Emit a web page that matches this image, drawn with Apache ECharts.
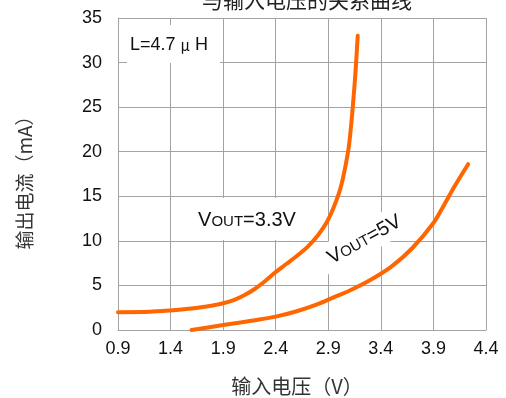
<!DOCTYPE html>
<html>
<head>
<meta charset="utf-8">
<script src="https://cdn.jsdelivr.net/npm/echarts@6/dist/echarts.min.js"></script>
<style>
  html, body { margin: 0; padding: 0; background: #fff; }
  #chart { width: 506px; height: 398px; }
</style>
</head>
<body>
<div id="chart"></div>
<script>
// Input voltage (V) vs. output current (mA), L = 4.7 µH
const xTicks = [0.9, 1.4, 1.9, 2.4, 2.9, 3.4, 3.9, 4.4];
const yTicks = [0, 5, 10, 15, 20, 25, 30, 35];

// VOUT = 3.3 V curve: [input voltage, output current]
const vout33 = [
  [0.9, 2.0], [1.2, 2.05], [1.4, 2.2], [1.6, 2.4], [1.8, 2.75], [1.9, 3.0],
  [2.0, 3.35], [2.1, 3.9], [2.2, 4.6], [2.3, 5.5], [2.4, 6.5], [2.5, 7.4],
  [2.6, 8.3], [2.7, 9.3], [2.8, 10.6], [2.9, 12.4], [3.0, 15.3], [3.05, 17.6],
  [3.1, 21.0], [3.15, 27.5], [3.18, 33.0]
];

// VOUT = 5 V curve
const vout5 = [
  [1.6, 0.0], [1.9, 0.55], [2.2, 1.1], [2.4, 1.5], [2.6, 2.1], [2.8, 2.9],
  [2.94, 3.6], [3.1, 4.4], [3.3, 5.6], [3.5, 7.1], [3.7, 9.2], [3.9, 12.0],
  [4.0, 14.0], [4.1, 16.1], [4.23, 18.6]
];

const titleText = '与输入电压的关系曲线';
const xName = '输入电压（V）';
const yName = '输出电流（mA）';

const chart = echarts.init(document.getElementById('chart'));
const font = '"Liberation Sans", Arial, "Noto Sans CJK SC", sans-serif';
const cjk = '"Noto Sans CJK SC", "Liberation Sans", sans-serif';
const gridColor = '#a3a3a3';
const orange = '#ff6600';

chart.setOption({
  animation: false,
  backgroundColor: '#fff',
  grid: { left: 118, right: 20, top: 18, bottom: 68, containLabel: false },
  xAxis: {
    type: 'value',
    min: xTicks[0],
    max: xTicks[xTicks.length - 1],
    interval: 0.5,
    axisLine: { show: true, lineStyle: { color: gridColor, width: 1 } },
    axisTick: { show: false },
    splitLine: { show: true, lineStyle: { color: gridColor, width: 1 } },
    axisLabel: {
      margin: 10,
      fontSize: 18,
      fontFamily: font,
      color: '#111',
      formatter: v => v.toFixed(1)
    }
  },
  yAxis: {
    type: 'value',
    min: yTicks[0],
    max: yTicks[yTicks.length - 1],
    interval: 5,
    axisLine: { show: true, lineStyle: { color: gridColor, width: 1 } },
    axisTick: { show: false },
    splitLine: { show: true, lineStyle: { color: gridColor, width: 1 } },
    axisLabel: {
      margin: 16,
      fontSize: 18,
      fontFamily: font,
      color: '#111'
    }
  },
  series: [
    {
      name: 'VOUT=3.3V',
      type: 'line',
      data: vout33,
      smooth: 0.3,
      showSymbol: false,
      lineStyle: { color: orange, width: 4, cap: 'round' },
      z: 3
    },
    {
      name: 'VOUT=5V',
      type: 'line',
      data: vout5,
      smooth: 0.3,
      showSymbol: false,
      lineStyle: { color: orange, width: 4, cap: 'round' },
      z: 3
    }
  ]
});

// Annotation boxes and axis titles
const voutRich = {
  big: { fontSize: 20, fontFamily: font, fill: '#111', verticalAlign: 'bottom', lineHeight: 22 },
  small: { fontSize: 15, fontFamily: font, fill: '#111', verticalAlign: 'bottom', lineHeight: 22, padding: [0, 0, 1, 0] }
};

chart.setOption({
  graphic: [
    {
      type: 'text', x: 307, y: 0, z: 5,
      style: { text: titleText, font: '21px ' + cjk, fill: '#222', align: 'center', verticalAlign: 'middle' }
    },
    {
      type: 'text', x: 297, y: 386, z: 5,
      style: { text: xName, font: '20px ' + cjk, fill: '#333', align: 'center', verticalAlign: 'middle' }
    },
    {
      type: 'text', x: 25, y: 178, z: 5, rotation: Math.PI / 2,
      style: { text: yName, font: '19px ' + cjk, fill: '#333', align: 'center', verticalAlign: 'middle' }
    },
    // L value box
    {
      type: 'rect', z: 1,
      shape: { x: 127, y: 25, width: 93, height: 38 },
      style: { fill: '#fff' }
    },
    {
      type: 'text', x: 130, y: 45, z: 5,
      style: {
        text: '{a|L=4.7 }{m|μ}{a| H}',
        verticalAlign: 'middle',
        rich: {
          a: { fontSize: 18, fontFamily: font, fill: '#111' },
          m: { fontSize: 15, fontFamily: cjk, fill: '#111' }
        }
      }
    },
    // VOUT = 3.3 V box
    {
      type: 'rect', z: 1,
      shape: { x: 172, y: 198, width: 150, height: 42 },
      style: { fill: '#fff' }
    },
    {
      type: 'text', x: 247, y: 219, z: 5,
      style: {
        text: '{big|V}{small|OUT}{big|=3.3V}',
        align: 'center', verticalAlign: 'middle',
        rich: voutRich
      }
    },
    // VOUT = 5 V rotated box
    {
      type: 'group', x: 364, y: 239, rotation: 29 * Math.PI / 180, z: 1,
      children: [
        {
          type: 'rect', z: 1,
          shape: { x: -48, y: -15, width: 96, height: 30 },
          style: { fill: '#fff' }
        },
        {
          type: 'text', z: 5,
          style: {
            text: '{big|V}{small|OUT}{big|=5V}',
            align: 'center', verticalAlign: 'middle',
            rich: voutRich
          }
        }
      ]
    }
  ]
});
</script>
</body>
</html>
